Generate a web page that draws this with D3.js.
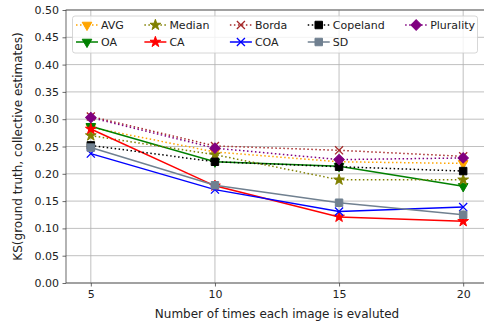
<!DOCTYPE html>
<html>
<head>
<meta charset="utf-8">
<script src="https://cdn.jsdelivr.net/npm/d3@7"></script>
<style>
  body { margin: 0; background: #fff; }
  svg { font-family: "DejaVu Sans", sans-serif; }
</style>
</head>
<body>
<div id="viz"></div>
<script>
const W = 484, H = 329;
const margin = { top: 10, right: -4, bottom: 46, left: 66 };
const font = 'DejaVu Sans';

// data
const xs = [5, 10, 15, 20];
const xTicks = [5, 10, 15, 20];
const yTicks = [0, 0.05, 0.10, 0.15, 0.20, 0.25, 0.30, 0.35, 0.40, 0.45, 0.50];
const names = ['AVG', 'OA', 'Median', 'CA', 'Borda', 'COA', 'Copeland', 'SD', 'Plurality'];
const avg = [0.285, 0.240, 0.222, 0.219];
const oa = [0.287, 0.222, 0.214, 0.177];
const median = [0.270, 0.235, 0.189, 0.189];
const ca = [0.282, 0.178, 0.121, 0.113];
const borda = [0.305, 0.251, 0.243, 0.232];
const coa = [0.237, 0.171, 0.131, 0.139];
const copeland = [0.252, 0.222, 0.213, 0.205];
const sd = [0.248, 0.179, 0.147, 0.125];
const plurality = [0.303, 0.247, 0.226, 0.229];
const values = [avg, oa, median, ca, borda, coa, copeland, sd, plurality];

const colors = ['orange', 'green', 'olive', 'red', 'brown', 'blue', 'black', 'slategray', 'purple'];
const dotted = [true, false, true, false, true, false, true, false, true];
const markers = ['tri', 'tri', 'star', 'star', 'x', 'x', 'square', 'square', 'diamond'];

const svg = d3.select('#viz').append('svg').attr('width', W).attr('height', H);

const x = d3.scaleLinear().domain([4, 21]).range([margin.left, W - margin.right]);
const y = d3.scaleLinear().domain([0, 0.5]).range([H - margin.bottom, margin.top]);

// grid
svg.append('g').selectAll('line').data(xTicks).join('line')
  .attr('x1', d => x(d)).attr('x2', d => x(d))
  .attr('y1', y(0)).attr('y2', y(0.5))
  .attr('stroke', '#b0b0b0').attr('stroke-width', 0.8);
svg.append('g').selectAll('line').data(yTicks).join('line')
  .attr('x1', x(4)).attr('x2', x(21))
  .attr('y1', d => y(d)).attr('y2', d => y(d))
  .attr('stroke', '#b0b0b0').attr('stroke-width', 0.8);

// axes
const xAxis = d3.axisBottom(x).tickValues(xTicks).tickSize(3.5).tickPadding(3.5).tickFormat(d3.format('d'));
const yAxis = d3.axisLeft(y).tickValues(yTicks).tickSize(3.5).tickPadding(3.5).tickFormat(d3.format('.2f'));
const gx = svg.append('g').attr('transform', `translate(0,${y(0)})`).call(xAxis);
const gy = svg.append('g').attr('transform', `translate(${x(4)},0)`).call(yAxis);
[gx, gy].forEach(g => {
  g.attr('font-family', font);
  g.select('.domain').remove();
  g.selectAll('text').attr('font-size', 11).attr('fill', '#222');
  g.selectAll('line').attr('stroke', '#444').attr('stroke-width', 0.8);
});

// spines
svg.append('rect')
  .attr('x', x(4)).attr('y', y(0.5))
  .attr('width', x(21) - x(4)).attr('height', y(0) - y(0.5))
  .attr('fill', 'none').attr('stroke', '#444').attr('stroke-width', 0.8);

// labels
svg.append('text')
  .attr('x', (x(4) + x(21)) / 2).attr('y', 318)
  .attr('text-anchor', 'middle').attr('font-size', 12).attr('fill', '#222')
  .attr('font-family', font)
  .text('Number of times each image is evaluted');
svg.append('text')
  .attr('transform', `translate(21.5,${(y(0) + y(0.5)) / 2}) rotate(-90)`)
  .attr('text-anchor', 'middle').attr('font-size', 12).attr('fill', '#222')
  .attr('font-family', font)
  .text('KS(ground truth, collective estimates)');

const symbolFor = {
  tri: { path: d3.symbol(d3.symbolTriangle, 40)(), rot: 180, stroke: false },
  star: { path: d3.symbol(d3.symbolStar, 36)(), rot: 0, stroke: false },
  x: { path: d3.symbol(d3.symbolX, 44)(), rot: 0, stroke: true },
  square: { path: d3.symbol(d3.symbolSquare, 56)(), rot: 0, stroke: false },
  diamond: { path: d3.symbol(d3.symbolSquare, 54)(), rot: 45, stroke: false }
};

function drawMarker(g, kind, color, cx, cy) {
  const s = symbolFor[kind];
  g.append('path')
    .attr('d', s.path)
    .attr('transform', `translate(${cx},${cy}) rotate(${s.rot})`)
    .attr('fill', s.stroke ? 'none' : color)
    .attr('stroke', color)
    .attr('stroke-width', s.stroke ? 1.3 : 1);
}

const line = d3.line().x((d, i) => x(xs[i])).y(d => y(d));

names.forEach((name, k) => {
  const g = svg.append('g');
  g.append('path')
    .attr('d', line(values[k]))
    .attr('fill', 'none')
    .attr('stroke', colors[k])
    .attr('stroke-width', 1.5)
    .attr('stroke-dasharray', dotted[k] ? '1.5,2.5' : null);
  values[k].forEach((v, i) => drawMarker(g, markers[k], colors[k], x(xs[i]), y(v)));
});

// legend (5 columns, filled column by column)
const leg = svg.append('g').attr('font-family', font);
const frame = leg.append('rect');
const rowY = [25, 42];
let colX = 76, rightEdge = 0;
const ncol = 5;
for (let c = 0; c < ncol; c++) {
  let maxW = 0;
  for (let r = 0; r < 2; r++) {
    const k = c * 2 + r;
    if (k >= names.length) continue;
    const yy = rowY[r];
    leg.append('line')
      .attr('x1', colX).attr('x2', colX + 22)
      .attr('y1', yy).attr('y2', yy)
      .attr('stroke', colors[k]).attr('stroke-width', 1.5)
      .attr('stroke-dasharray', dotted[k] ? '1.5,2.5' : null);
    drawMarker(leg, markers[k], colors[k], colX + 11, yy);
    const t = leg.append('text')
      .attr('x', colX + 25).attr('y', yy + 4)
      .attr('font-size', 11).attr('fill', '#222')
      .text(names[k]);
    maxW = Math.max(maxW, t.node().getComputedTextLength());
  }
  rightEdge = colX + 25 + maxW;
  colX += 25 + maxW + 20.5;
}
frame.attr('x', 72.5).attr('y', 16).attr('width', rightEdge + 2.5 - 72.5).attr('height', 37)
  .attr('rx', 2.5).attr('fill', 'white').attr('fill-opacity', 0.8)
  .attr('stroke', '#cccccc').attr('stroke-width', 0.8);
</script>
</body>
</html>
